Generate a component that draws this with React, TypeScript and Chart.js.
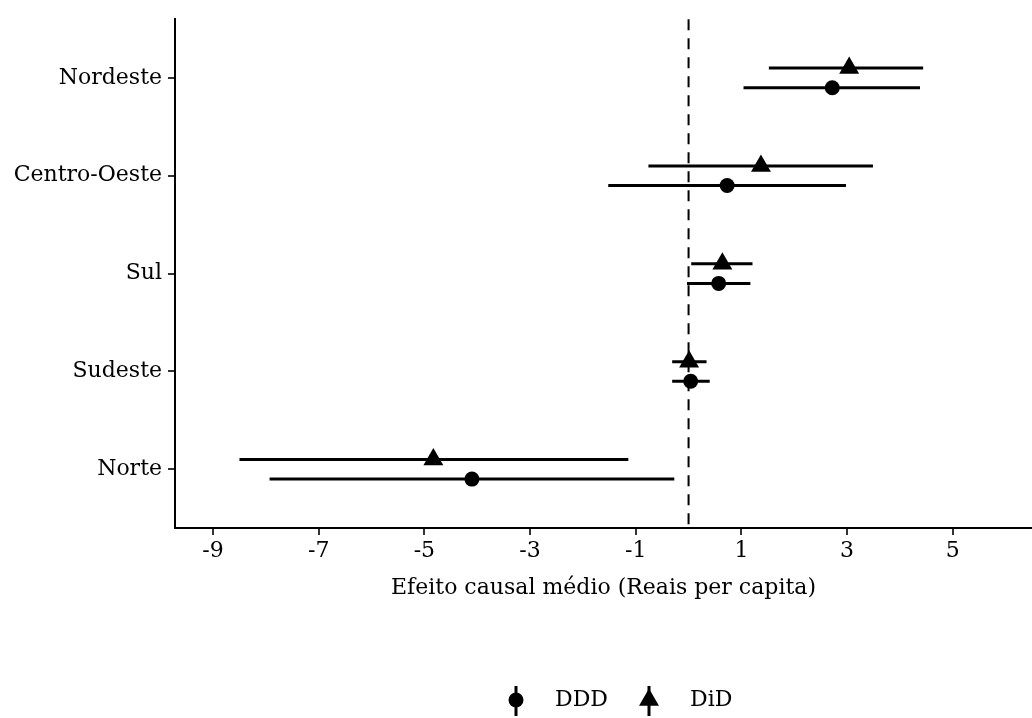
import React, { useEffect, useRef } from 'react';
import { Chart, registerables } from 'chart.js';
Chart.register(...registerables);

// Regions bottom-to-top on the y axis
const regions = ['Norte', 'Sudeste', 'Sul', 'Centro-Oeste', 'Nordeste'];
const dddEst = [-4.10, 0.04, 0.57, 0.73, 2.72];
const dddLow = [-7.93, -0.31, -0.03, -1.52, 1.04];
const dddHigh = [-0.27, 0.40, 1.17, 2.98, 4.38];
const didEst = [-4.83, 0.01, 0.64, 1.37, 3.04];
const didLow = [-8.50, -0.31, 0.05, -0.76, 1.52];
const didHigh = [-1.14, 0.34, 1.21, 3.49, 4.44];
const xTicks = [-9, -7, -5, -3, -1, 1, 3, 5];
const seriesNames = ['DDD', 'DiD'];

const FONT = '"DejaVu Serif", serif';
const OFF = 0.1;

export default function App() {
  const ref = useRef<HTMLCanvasElement>(null);
  useEffect(() => {
    document.body.style.margin = '0';
    const canvas = ref.current!;
    const datasets: any[] = [];
    regions.forEach((_, i) => {
      datasets.push({
        label: 'ci-ddd-' + i,
        data: [{ x: dddLow[i], y: i + 1 - OFF }, { x: dddHigh[i], y: i + 1 - OFF }],
        showLine: true, borderColor: '#000', borderWidth: 3, pointRadius: 0, order: 2,
      });
      datasets.push({
        label: 'ci-did-' + i,
        data: [{ x: didLow[i], y: i + 1 + OFF }, { x: didHigh[i], y: i + 1 + OFF }],
        showLine: true, borderColor: '#000', borderWidth: 3, pointRadius: 0, order: 2,
      });
    });
    datasets.push({
      label: seriesNames[0],
      data: regions.map((_, i) => ({ x: dddEst[i], y: i + 1 - OFF })),
      pointStyle: 'circle', pointRadius: 7.5, backgroundColor: '#000', borderWidth: 0, order: 0,
    });
    datasets.push({
      label: seriesNames[1],
      data: regions.map((_, i) => ({ x: didEst[i], y: i + 1 + OFF })),
      pointStyle: 'triangle', pointRadius: 11.5, backgroundColor: '#000', borderWidth: 0, order: 0,
    });

    const zeroLine = {
      id: 'zeroLine',
      beforeDatasetsDraw(chart: any) {
        const { ctx, chartArea, scales } = chart;
        const x = scales.x.getPixelForValue(0);
        ctx.save();
        ctx.strokeStyle = '#000';
        ctx.lineWidth = 2;
        ctx.setLineDash([11, 8]);
        ctx.beginPath();
        ctx.moveTo(x, chartArea.top);
        ctx.lineTo(x, chartArea.bottom);
        ctx.stroke();
        ctx.restore();
      },
    };

    const legendPlugin = {
      id: 'customLegend',
      afterDraw(chart: any) {
        const { ctx, width } = chart;
        const cx = width / 2;
        const y = 700;
        ctx.save();
        ctx.fillStyle = '#000';
        ctx.strokeStyle = '#000';
        ctx.lineWidth = 3;
        // DDD key
        ctx.beginPath();
        ctx.moveTo(cx, y - 14);
        ctx.lineTo(cx, y + 16);
        ctx.stroke();
        ctx.beginPath();
        ctx.arc(cx, y, 7.5, 0, Math.PI * 2);
        ctx.fill();
        // DiD key
        const tx = cx + 133;
        ctx.beginPath();
        ctx.moveTo(tx, y - 14);
        ctx.lineTo(tx, y + 16);
        ctx.stroke();
        const r = 11.5;
        ctx.beginPath();
        ctx.moveTo(tx, y - r);
        ctx.lineTo(tx + r * Math.sin((2 * Math.PI) / 3), y - r * Math.cos((2 * Math.PI) / 3));
        ctx.lineTo(tx + r * Math.sin((4 * Math.PI) / 3), y - r * Math.cos((4 * Math.PI) / 3));
        ctx.closePath();
        ctx.fill();
        ctx.font = '22px ' + FONT;
        ctx.textBaseline = 'middle';
        ctx.textAlign = 'left';
        ctx.fillText(seriesNames[0], cx + 39, y);
        ctx.fillText(seriesNames[1], cx + 174, y);
        ctx.restore();
      },
    };

    const chart = new Chart(canvas, {
      type: 'scatter',
      data: { datasets },
      plugins: [zeroLine, legendPlugin],
      options: {
        animation: false,
        responsive: false,
        layout: { autoPadding: false, padding: { top: 16, right: 0, bottom: 117, left: 0 } },
        plugins: { legend: { display: false }, tooltip: { enabled: false } },
        scales: {
          x: {
            type: 'linear',
            min: -9.72,
            max: 6.5,
            afterBuildTicks: (s: any) => { s.ticks = xTicks.map((v) => ({ value: v })); },
            afterFit: (s: any) => { s.height = 73; },
            ticks: { color: '#000', padding: 3, font: { family: FONT, size: 22 }, callback: (v: any) => String(v) },
            grid: { display: true, drawOnChartArea: false, drawTicks: true, tickLength: 7, color: '#333', lineWidth: 2 },
            border: { display: true, color: '#000', width: 2 },
            title: { display: true, text: 'Efeito causal médio (Reais per capita)', color: '#000', font: { family: FONT, size: 22 }, padding: 0 },
          },
          y: {
            type: 'linear',
            min: 0.4,
            max: 5.6,
            afterBuildTicks: (s: any) => { s.ticks = regions.map((_, i) => ({ value: i + 1 })); },
            afterFit: (s: any) => { s.width = 175; },
            ticks: { color: '#000', padding: 6, font: { family: FONT, size: 22 }, callback: (v: any) => regions[Math.round(v) - 1] },
            grid: { display: true, drawOnChartArea: false, drawTicks: true, tickLength: 7, color: '#333', lineWidth: 2 },
            border: { display: true, color: '#000', width: 2 },
          },
        },
      } as any,
    });
    return () => chart.destroy();
  }, []);
  return (
    <div style={{ width: 1032, height: 718, background: '#fff' }}>
      <canvas ref={ref} width={1032} height={718} style={{ display: 'block' }} />
    </div>
  );
}
